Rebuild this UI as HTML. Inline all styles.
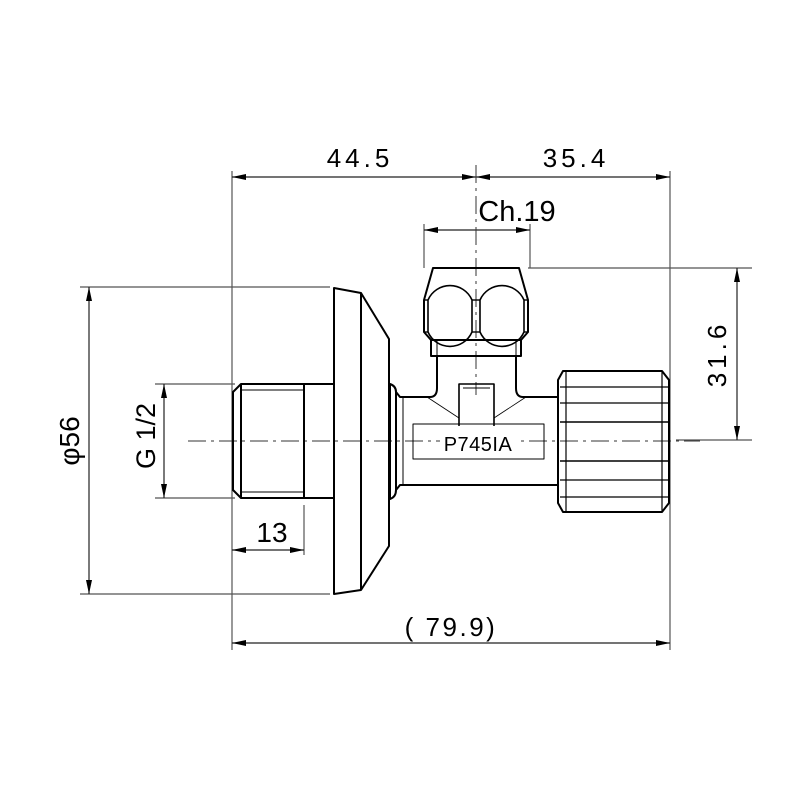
<!DOCTYPE html>
<html><head><style>html,body{margin:0;padding:0;background:#fff}svg{display:block}text{font-family:"Liberation Sans",sans-serif;fill:#000}</style></head><body>
<svg width="800" height="800" viewBox="0 0 800 800" xmlns="http://www.w3.org/2000/svg">
<defs>
<marker id="a" viewBox="0 0 14 6" refX="14" refY="3" markerWidth="14" markerHeight="6" markerUnits="userSpaceOnUse" orient="auto-start-reverse"><path d="M0,0L14,3L0,6z" fill="#000"/></marker>
</defs>
<g stroke="#555" stroke-width="1.2" fill="none">
<line x1="232" y1="171" x2="232" y2="650"/>
<line x1="670" y1="171" x2="670" y2="650"/>
<line x1="424" y1="224" x2="424" y2="268"/>
<line x1="530" y1="224" x2="530" y2="268"/>
<line x1="528" y1="268" x2="752" y2="268"/>
<line x1="80" y1="287" x2="330" y2="287"/>
<line x1="80" y1="594" x2="330" y2="594"/>
<line x1="155" y1="384" x2="235" y2="384"/>
<line x1="155" y1="498" x2="235" y2="498"/>
<line x1="304" y1="505" x2="304" y2="555"/>
<line x1="676" y1="440" x2="752" y2="440"/>
</g>
<g stroke="#222" stroke-width="1.2" fill="none" marker-start="url(#a)" marker-end="url(#a)">
<line x1="232" y1="177" x2="476" y2="177"/>
<line x1="476" y1="177" x2="670" y2="177"/>
<line x1="424" y1="230" x2="530" y2="230"/>
<line x1="737" y1="268" x2="737" y2="440"/>
<line x1="89" y1="287" x2="89" y2="594"/>
<line x1="164" y1="384" x2="164" y2="498"/>
<line x1="232" y1="550" x2="304" y2="550"/>
<line x1="232" y1="643" x2="670" y2="643"/>
</g>
<g stroke="#333" stroke-width="1" stroke-dasharray="18,5,3,5" fill="none">
<line x1="188" y1="441" x2="700" y2="441"/>
<line x1="476" y1="165" x2="476" y2="395"/>
</g>
<g stroke="#000" stroke-width="2" fill="none" stroke-linejoin="round">
<path d="M241,384 L334,384 L334,498 L241,498 L233,490 L233,392 Z"/>
<line x1="241" y1="384" x2="241" y2="498"/>
<line x1="304" y1="384" x2="304" y2="498"/>
<line x1="241" y1="390" x2="304" y2="390" stroke-width="1"/>
<line x1="241" y1="492" x2="304" y2="492" stroke-width="1"/>
<path d="M334,288 L361,293 L389,339 L389,546 L361,590 L334,594 Z"/>
<line x1="361" y1="293" x2="361" y2="590"/>
<path d="M390,384 Q396,386 396,392 L396,490 Q396,497 390,499 Z"/>
<path d="M396,392 L400,397 L430,397 Q437,397 437,388 L437,356 M516,356 L516,388 Q516,397 523,397 L558,397 M558,485 L400,485 L396,490"/>
<line x1="403" y1="397" x2="403" y2="485" stroke-width="1"/>
<path d="M431,340 L431,356 L521,356 L521,340"/>
<line x1="437" y1="340" x2="437" y2="356" stroke-width="1"/>
<line x1="516" y1="340" x2="516" y2="356" stroke-width="1"/>
<path d="M433,268 L519,268 L528,300 L528,332 L521,340 L431,340 L424,332 L424,300 Z"/>
<path d="M428,300 A24,24 0 0 1 472,300 L472,332 A24,24 0 0 1 428,332 Z" stroke-width="1.6"/>
<path d="M480,300 A24,24 0 0 1 524,300 L524,332 A24,24 0 0 1 480,332 Z" stroke-width="1.6"/>
<line x1="472" y1="300" x2="480" y2="300" stroke-width="1.4"/>
<line x1="472" y1="332" x2="480" y2="332" stroke-width="1.4"/>
<line x1="424" y1="300" x2="428" y2="300" stroke-width="1.4"/>
<line x1="424" y1="332" x2="428" y2="332" stroke-width="1.4"/>
<line x1="524" y1="300" x2="528" y2="300" stroke-width="1.4"/>
<line x1="524" y1="332" x2="528" y2="332" stroke-width="1.4"/>
<path d="M459,426 L459,384 L494,384 L494,426" stroke-width="1.6"/>
<line x1="463" y1="388" x2="490" y2="388" stroke-width="1"/>
<line x1="427" y1="397" x2="459" y2="418" stroke-width="0.8"/>
<line x1="526" y1="397" x2="494" y2="418" stroke-width="0.8"/>
<rect x="413" y="424" width="131" height="35" stroke-width="1"/>
<path d="M563,371 L662,371 L669,380 L669,503 L662,512 L563,512 L558,503 L558,380 Z"/>
<line x1="566" y1="371" x2="566" y2="512" stroke-width="1.2"/>
<line x1="662" y1="371" x2="662" y2="512" stroke-width="1.2"/>
<line x1="560" y1="387" x2="668" y2="387" stroke-width="1.2"/>
<line x1="560" y1="403" x2="668" y2="403" stroke-width="1.2"/>
<line x1="560" y1="422" x2="668" y2="422" stroke-width="1.6"/>
<line x1="560" y1="461" x2="668" y2="461" stroke-width="1.6"/>
<line x1="560" y1="480" x2="668" y2="480" stroke-width="1.2"/>
<line x1="560" y1="497" x2="668" y2="497" stroke-width="1.2"/>
</g>
<rect x="440" y="432" width="76" height="22" fill="#fff"/>
<text x="478" y="451" font-size="20" text-anchor="middle" letter-spacing="0.5">P745IA</text>
<text x="360" y="167" font-size="26" text-anchor="middle" letter-spacing="4">44.5</text>
<text x="576" y="167" font-size="26" text-anchor="middle" letter-spacing="4">35.4</text>
<text x="517" y="221" font-size="29" text-anchor="middle">Ch.19</text>
<text x="272" y="542" font-size="28" text-anchor="middle">13</text>
<text x="451" y="636" font-size="26" text-anchor="middle" letter-spacing="2.5">( 79.9)</text>
<text transform="translate(726,354) rotate(-90)" font-size="26" text-anchor="middle" letter-spacing="4">31.6</text>
<text transform="translate(79,441) rotate(-90)" font-size="28" text-anchor="middle">φ56</text>
<text transform="translate(155,436) rotate(-90)" font-size="27" text-anchor="middle">G  1/2</text>
</svg>
</body></html>
